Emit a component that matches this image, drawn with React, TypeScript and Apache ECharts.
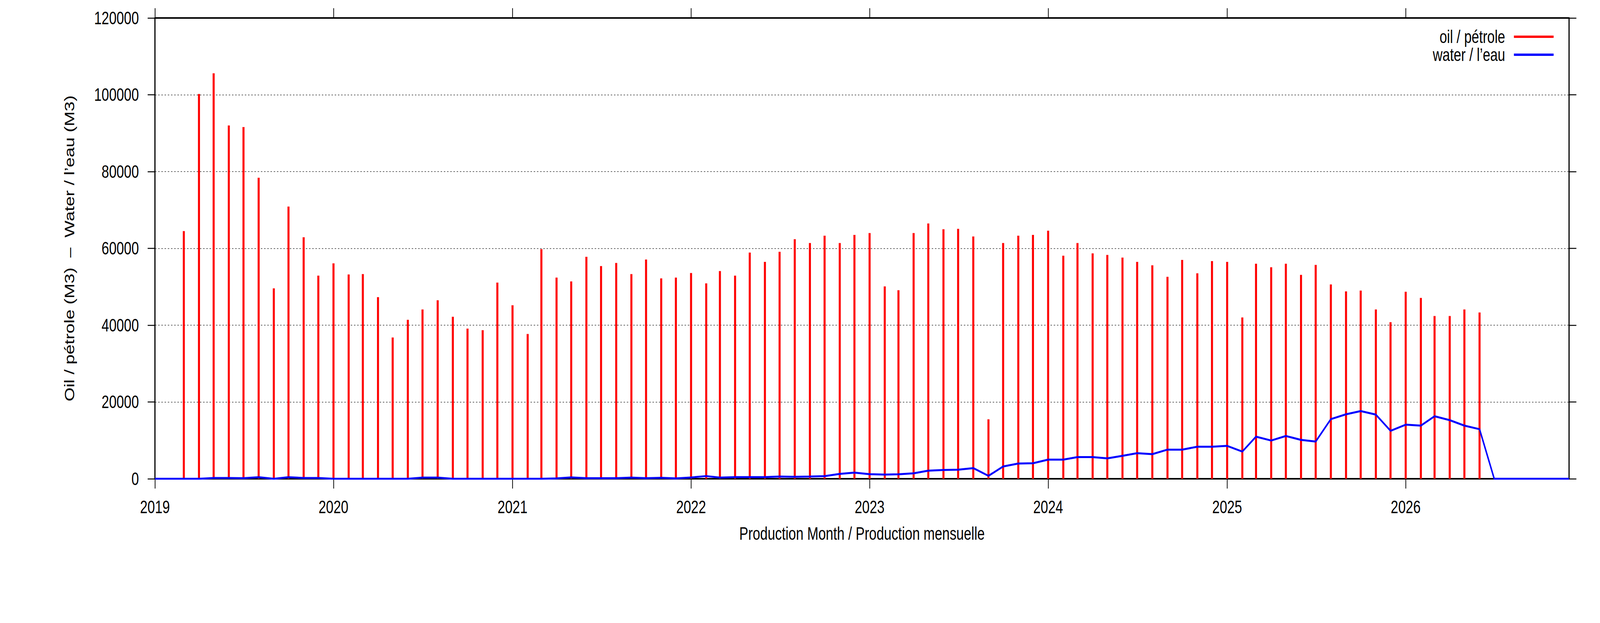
import React, { useEffect, useRef } from "react";
import * as echarts from "echarts";

// Monthly values, Jan..Dec of each year (m3)
const oil2019 = [0, 0, 64500, 100200, 105600, 92000, 91600, 78400, 49600, 70900, 62900, 52900];
const oil2020 = [56100, 53200, 53300, 47300, 36800, 41400, 44100, 46500, 42200, 39100, 38700, 51100];
const oil2021 = [45200, 37700, 59800, 52400, 51400, 57800, 55400, 56200, 53300, 57100, 52200, 52400];
const oil2022 = [53600, 50900, 54100, 52900, 58900, 56500, 59100, 62400, 61400, 63300, 61400, 63500];
const oil2023 = [64000, 50100, 49100, 64000, 66500, 65000, 65100, 63100, 15500, 61400, 63300, 63500];
const oil2024 = [64600, 58100, 61400, 58700, 58300, 57600, 56500, 55600, 52600, 57000, 53500, 56700];
const oil2025 = [56500, 42000, 56000, 55100, 56000, 53100, 55700, 50600, 48800, 49000, 44100, 40800];
const oil2026 = [48700, 47100, 42400, 42400, 44100, 43300, 0, 0, 0, 0, 0, 0];

const water2019 = [0, 0, 0, 0, 200, 200, 150, 400, 0, 400, 200, 200];
const water2020 = [0, 0, 0, 0, 0, 0, 300, 300, 0, 0, 0, 0];
const water2021 = [0, 0, 0, 100, 350, 150, 150, 150, 300, 150, 250, 100];
const water2022 = [340, 700, 300, 420, 420, 420, 590, 510, 590, 680, 1270, 1600];
const water2023 = [1200, 1100, 1180, 1430, 2110, 2280, 2360, 2780, 760, 3210, 3970, 4050];
const water2024 = [4980, 4980, 5650, 5650, 5320, 5990, 6670, 6410, 7590, 7590, 8350, 8350];
const water2025 = [8570, 7090, 10970, 9960, 11140, 10130, 9700, 15530, 16790, 17640, 16710, 12490];
const water2026 = [14090, 13840, 16290, 15270, 13840, 12910, 0, 0, 0, 0, 0, 0];

const years = [2019, 2020, 2021, 2022, 2023, 2024, 2025, 2026];
const yTicks = [0, 20000, 40000, 60000, 80000, 100000, 120000];

const oilByYear = [oil2019, oil2020, oil2021, oil2022, oil2023, oil2024, oil2025, oil2026];
const waterByYear = [water2019, water2020, water2021, water2022, water2023, water2024, water2025, water2026];

const OIL_NAME = "oil / pétrole";
const WATER_NAME = "water / l\u2019eau";
const FONT = "'Liberation Sans', Arial, Helvetica, sans-serif";

const REF_W = 5483;
const REF_H = 1594;

export default function App() {
  const ref = useRef<HTMLDivElement>(null);
  const vw = typeof window !== "undefined" ? window.innerWidth || REF_W : REF_W;
  const vh = typeof window !== "undefined" ? window.innerHeight || REF_H : REF_H;
  const kx = Math.min(1, vw / REF_W);
  const ky = Math.min(1, vh / REF_H);

  useEffect(() => {
    if (!ref.current) return;
    const chart = echarts.init(ref.current, undefined, { renderer: "svg" });

    const oilData: [number, number][] = [];
    const waterData: [number, number][] = [];
    years.forEach((y, yi) => {
      oilByYear[yi].forEach((v, m) => oilData.push([Date.UTC(y, m, 1), v]));
      waterByYear[yi].forEach((v, m) => waterData.push([Date.UTC(y, m, 1), v]));
    });
    const yearTicks = years.map((y) => Date.UTC(y, 0, 1));
    const xMin = Date.UTC(2019, 0, 1);
    const xMax = Date.UTC(2026, 11, 1);

    const axisLine = { show: true, lineStyle: { color: "#000", width: 4 } };
    const tick = { show: true, length: 25, inside: false, lineStyle: { color: "#000", width: 2.5 } };

    chart.setOption({
      animation: false,
      backgroundColor: "#fff",
      textStyle: { fontFamily: FONT, color: "#000" },
      grid: {
        left: 531,
        top: 46,
        right: 106,
        bottom: 369,
        containLabel: false,
        outerBoundsMode: "none",
      },
      legend: {
        orient: "vertical",
        align: "right",
        right: 159,
        top: 71,
        padding: 0,
        itemGap: 0,
        itemWidth: 136,
        itemHeight: 6,
        data: [
          { name: OIL_NAME, icon: "rect" },
          { name: WATER_NAME, icon: "rect" },
        ],
        textStyle: {
          fontFamily: FONT,
          fontSize: 46,
          lineHeight: 46,
          color: "#000",
          padding: [0, 25, 0, 0],
        },
      },
      xAxis: [
        {
          type: "value",
          position: "bottom",
          min: xMin,
          max: xMax,
          name: "Production Month / Production mensuelle",
          nameLocation: "middle",
          nameGap: 117,
          nameTextStyle: { fontFamily: FONT, fontSize: 46, lineHeight: 46, color: "#000" },
          axisLine: { ...axisLine, onZero: false },
          axisTick: { ...tick, customValues: yearTicks },
          axisLabel: {
            customValues: yearTicks,
            margin: 49,
            fontFamily: FONT,
            fontSize: 46,
            lineHeight: 46,
            color: "#000",
            formatter: (v: number) => String(new Date(v).getUTCFullYear()),
          },
          splitLine: { show: false },
        },
        {
          type: "value",
          position: "top",
          min: xMin,
          max: xMax,
          axisLine: { ...axisLine, onZero: false },
          axisTick: { ...tick, customValues: yearTicks },
          axisLabel: { show: false },
          splitLine: { show: false },
        },
      ],
      yAxis: [
        {
          type: "value",
          position: "left",
          min: yTicks[0],
          max: yTicks[yTicks.length - 1],
          interval: 20000,
          name: "Oil / pétrole (M3)  \u2013  Water / l\u2019eau (M3)",
          nameLocation: "middle",
          nameGap: 269,
          nameTextStyle: { fontFamily: FONT, fontSize: 46, lineHeight: 46, color: "#000" },
          axisLine,
          axisTick: tick,
          axisLabel: {
            margin: 55,
            fontFamily: FONT,
            fontSize: 46,
            color: "#000",
            formatter: (v: number) => String(v),
          },
          splitLine: {
            show: true,
            lineStyle: { color: "#333", width: 1.5, type: [5, 6] },
          },
        },
        {
          type: "value",
          position: "right",
          min: yTicks[0],
          max: yTicks[yTicks.length - 1],
          interval: 20000,
          axisLine,
          axisTick: tick,
          axisLabel: { show: false },
          splitLine: { show: false },
        },
      ],
      series: [
        {
          name: OIL_NAME,
          type: "bar",
          xAxisIndex: 0,
          yAxisIndex: 0,
          barWidth: 7,
          itemStyle: { color: "#ff0000" },
          data: oilData,
          z: 2,
        },
        {
          name: WATER_NAME,
          type: "line",
          xAxisIndex: 0,
          yAxisIndex: 0,
          showSymbol: false,
          symbol: "none",
          lineStyle: { color: "#0000ff", width: 5 },
          itemStyle: { color: "#0000ff" },
          data: waterData,
          z: 3,
        },
      ],
    });

    return () => chart.dispose();
  }, []);

  return (
    <div
      ref={ref}
      style={{
        position: "fixed",
        left: 0,
        top: 0,
        width: REF_W + "px",
        height: REF_H + "px",
        background: "#fff",
        transform: `scale(${kx}, ${ky})`,
        transformOrigin: "0 0",
      }}
    />
  );
}
